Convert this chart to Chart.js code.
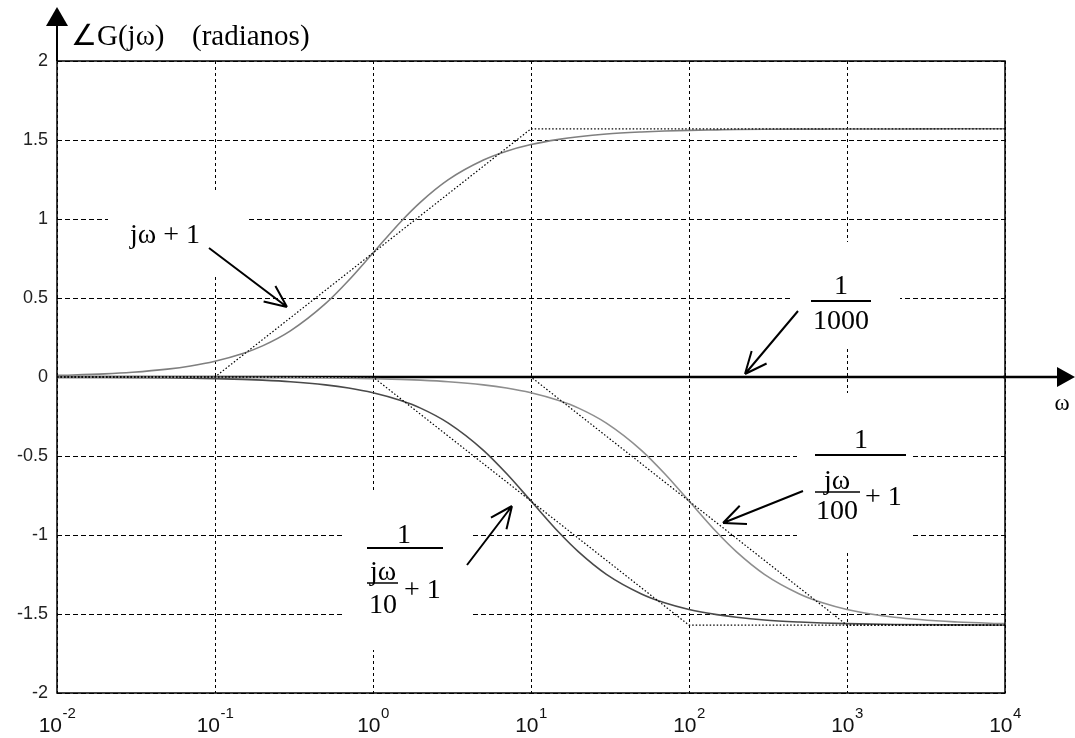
<!DOCTYPE html>
<html>
<head>
<meta charset="utf-8">
<script src="https://cdn.jsdelivr.net/npm/chart.js@4.4.1/dist/chart.umd.min.js"></script>
<style>
html,body{margin:0;padding:0;background:#fff;}
#wrap{width:1075px;height:738px;}
</style>
</head>
<body>
<div id="wrap"><canvas id="c" width="1075" height="738"></canvas></div>
<script>
// ---- data ----
const omega = [0.01,0.02,0.03,0.05,0.07,0.1,0.15,0.2,0.3,0.5,0.7,1,1.5,2,3,5,7,10,15,20,30,50,70,100,150,200,300,500,700,1000,2000,5000,10000];
const phaseJw1 = [0.010,0.020,0.030,0.050,0.070,0.100,0.149,0.197,0.292,0.464,0.611,0.785,0.983,1.107,1.249,1.373,1.429,1.471,1.504,1.521,1.538,1.551,1.557,1.561,1.564,1.566,1.568,1.569,1.569,1.570,1.570,1.571,1.571];
const phaseP10 = [-0.001,-0.002,-0.003,-0.005,-0.007,-0.010,-0.015,-0.020,-0.030,-0.050,-0.070,-0.100,-0.149,-0.197,-0.292,-0.464,-0.611,-0.785,-0.983,-1.107,-1.249,-1.373,-1.429,-1.471,-1.504,-1.521,-1.538,-1.551,-1.557,-1.561,-1.566,-1.569,-1.570];
const phaseP100 = [0.000,0.000,0.000,-0.001,-0.001,-0.001,-0.002,-0.002,-0.003,-0.005,-0.007,-0.010,-0.015,-0.020,-0.030,-0.050,-0.070,-0.100,-0.149,-0.197,-0.292,-0.464,-0.611,-0.785,-0.983,-1.107,-1.249,-1.373,-1.429,-1.471,-1.521,-1.551,-1.561];
const constOmega = [0.01,10000];
const phaseConst = [0,0];
const asymOmegaJw1 = [0.01,0.1,10,10000];
const asymJw1 = [0,0,1.5708,1.5708];
const asymOmegaP10 = [0.01,1,100,10000];
const asymP10 = [0,0,-1.5708,-1.5708];
const asymOmegaP100 = [0.01,10,1000,10000];
const asymP100 = [0,0,-1.5708,-1.5708];
const xTickValues = [0.01,0.1,1,10,100,1000,10000];
const xTickExponents = ['-2','-1','0','1','2','3','4'];
const yMin = -2, yMax = 2, yStep = 0.5;

const pts = (xs, ys) => xs.map((x,i)=>({x:x, y:ys[i]}));

const curve = (data, color, w) => ({data, borderColor:color, borderWidth:w, pointRadius:0, fill:false, cubicInterpolationMode:'monotone'});
const dotted = (data) => ({data, borderColor:'#000', borderWidth:1.2, borderDash:[1.5,2], pointRadius:0, fill:false, tension:0});

const SERIF = "'Liberation Serif', 'Times New Roman', serif";
const SANS = "'Liberation Sans', Arial, sans-serif";

function arrow(ctx, x1, y1, x2, y2) {
  const a = Math.atan2(y2-y1, x2-x1);
  const L = 24, h = 24*Math.PI/180;
  ctx.beginPath();
  ctx.moveTo(x1,y1); ctx.lineTo(x2,y2);
  ctx.moveTo(x2,y2); ctx.lineTo(x2 - L*Math.cos(a-h), y2 - L*Math.sin(a-h));
  ctx.moveTo(x2,y2); ctx.lineTo(x2 - L*Math.cos(a+h), y2 - L*Math.sin(a+h));
  ctx.stroke();
}
function hline(ctx, x1, x2, y, w) {
  ctx.lineWidth = w;
  ctx.beginPath(); ctx.moveTo(x1,y); ctx.lineTo(x2,y); ctx.stroke();
}

const annot = {
  id:'annot',
  beforeDatasetsDraw(chart) {
    const ctx = chart.ctx;
    ctx.save();
    ctx.fillStyle = '#fff';
    ctx.fillRect(108, 190, 140, 86);   // jw + 1
    ctx.fillRect(790, 242, 110, 106);  // 1/1000
    ctx.fillRect(797, 393, 113, 159);  // 1/(jw/100+1)
    ctx.fillRect(345, 490, 127, 160);  // 1/(jw/10+1)
    ctx.restore();
  },
  afterDraw(chart) {
    const ctx = chart.ctx;
    const ca = chart.chartArea;
    const xs = chart.scales.x, ys = chart.scales.y;
    ctx.save();
    ctx.strokeStyle = '#000'; ctx.fillStyle = '#000';
    // plot border
    ctx.lineWidth = 1.5;
    ctx.strokeRect(ca.left, ca.top, ca.right-ca.left, ca.bottom-ca.top);
    // y axis arrow
    ctx.lineWidth = 2;
    ctx.beginPath(); ctx.moveTo(ca.left, ca.top); ctx.lineTo(ca.left, 24); ctx.stroke();
    ctx.beginPath(); ctx.moveTo(ca.left, 7); ctx.lineTo(ca.left-11, 26); ctx.lineTo(ca.left+11, 26); ctx.closePath(); ctx.fill();
    // x axis arrow
    const y0 = ys.getPixelForValue(0);
    ctx.lineWidth = 2.5;
    ctx.beginPath(); ctx.moveTo(ca.right-2, y0); ctx.lineTo(1060, y0); ctx.stroke();
    ctx.beginPath(); ctx.moveTo(1075, y0); ctx.lineTo(1057, y0-10); ctx.lineTo(1057, y0+10); ctx.closePath(); ctx.fill();

    // x tick labels 10^n
    ctx.fillStyle = '#111';
    ctx.textBaseline = 'alphabetic';
    xTickValues.forEach((v,i)=>{
      const px = xs.getPixelForValue(v);
      ctx.font = '21px ' + SANS;
      const wb = ctx.measureText('10').width;
      ctx.font = '15px ' + SANS;
      const we = ctx.measureText(xTickExponents[i]).width;
      const start = px - (wb+we)/2;
      ctx.textAlign = 'left';
      ctx.font = '21px ' + SANS;
      ctx.fillText('10', start, 732);
      ctx.font = '15px ' + SANS;
      ctx.fillText(xTickExponents[i], start+wb+0.5, 718);
    });

    // axis labels
    ctx.fillStyle = '#000';
    ctx.textAlign = 'left';
    ctx.font = '29px ' + SERIF;
    ctx.fillText('\u2220G(j\u03c9)', 71, 45);
    ctx.fillText('(radianos)', 192, 45);
    ctx.font = '23px ' + SERIF;
    ctx.textAlign = 'center';
    ctx.fillText('\u03c9', 1062, 410);

    // jw + 1
    ctx.font = '28px ' + SERIF;
    ctx.textAlign = 'left';
    ctx.fillText('j\u03c9 + 1', 130, 243);
    ctx.lineWidth = 2;
    arrow(ctx, 209, 248, 287, 307);

    // 1/1000
    ctx.textAlign = 'center';
    ctx.fillText('1', 841, 294);
    hline(ctx, 811, 871, 301, 2);
    ctx.fillText('1000', 841, 329);
    ctx.lineWidth = 2;
    arrow(ctx, 798, 311, 745, 374);

    // 1/(jw/100 + 1)
    ctx.fillText('1', 861, 448);
    hline(ctx, 815, 906, 455, 2);
    ctx.fillText('j\u03c9', 837, 489);
    hline(ctx, 815, 860, 492, 1.5);
    ctx.fillText('100', 837, 519);
    ctx.textAlign = 'left';
    ctx.fillText('+ 1', 865, 505);
    ctx.lineWidth = 2;
    arrow(ctx, 803, 491, 723, 523);

    // 1/(jw/10 + 1)
    ctx.textAlign = 'center';
    ctx.fillText('1', 404, 543);
    hline(ctx, 367, 443, 548, 2);
    ctx.fillText('j\u03c9', 383, 580);
    hline(ctx, 367, 398, 583, 1.5);
    ctx.fillText('10', 383, 613);
    ctx.textAlign = 'left';
    ctx.fillText('+ 1', 404, 598);
    ctx.lineWidth = 2;
    arrow(ctx, 467, 565, 512, 506);

    ctx.restore();
  }
};

new Chart(document.getElementById('c'), {
  type:'line',
  data:{
    datasets:[
      dotted(pts(asymOmegaJw1, asymJw1)),
      dotted(pts(asymOmegaP10, asymP10)),
      dotted(pts(asymOmegaP100, asymP100)),
      curve(pts(omega, phaseJw1), '#7f7f7f', 1.6),
      curve(pts(omega, phaseP100), '#8e8e8e', 1.6),
      curve(pts(omega, phaseP10), '#4a4a4a', 1.6),
      {data:pts(constOmega, phaseConst), borderColor:'#000', borderWidth:2.5, pointRadius:0, fill:false}
    ]
  },
  options:{
    responsive:false,
    devicePixelRatio:1,
    animation:false,
    events:[],
    layout:{padding:{left:0, top:61, right:70, bottom:0}},
    plugins:{legend:{display:false}, tooltip:{enabled:false}, title:{display:false}},
    scales:{
      x:{
        type:'logarithmic',
        min:0.01, max:10000,
        afterBuildTicks:(s)=>{ s.ticks = xTickValues.map(v=>({value:v})); },
        afterFit:(s)=>{ s.height = 45; },
        ticks:{display:false},
        grid:{color:'#000', lineWidth:1, drawTicks:false},
        border:{display:false, dash:[3,3]}
      },
      y:{
        type:'linear',
        min:yMin, max:yMax,
        afterFit:(s)=>{ s.width = 57; },
        ticks:{stepSize:yStep, padding:9, color:'#222', font:{family:SANS, size:18}, callback:(v)=>String(v)},
        grid:{color:'#000', lineWidth:1, drawTicks:false},
        border:{display:false, dash:[5,3]}
      }
    }
  },
  plugins:[annot]
});
</script>
</body>
</html>
